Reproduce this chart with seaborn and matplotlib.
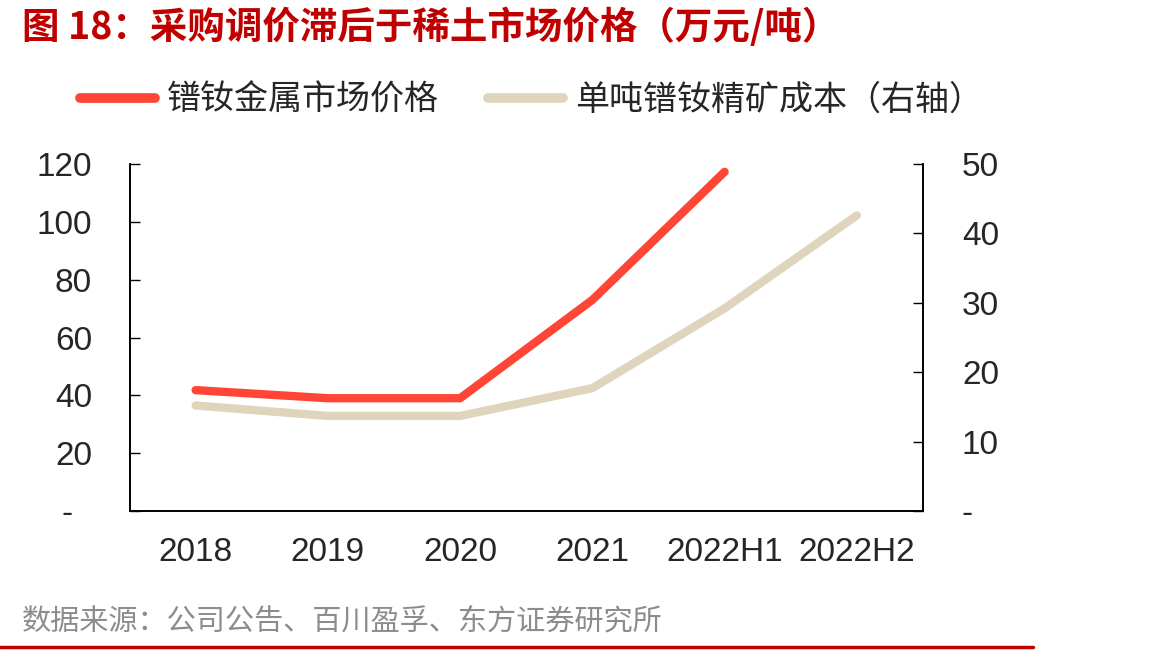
import numpy as np
import pandas as pd
import matplotlib
matplotlib.use("Agg")
import matplotlib.pyplot as plt
from matplotlib.lines import Line2D
import seaborn as sns

# ---- data ----
categories = ["2018", "2019", "2020", "2021", "2022H1", "2022H2"]
metal_price = [41.8, 39.0, 39.0, 73.0, 117.3, np.nan]      # 镨钕金属市场价格 (left axis)
ore_cost = [15.2, 13.7, 13.7, 17.7, 29.2, 42.6]            # 单吨镨钕精矿成本 (right axis)
left_ticks = [0, 20, 40, 60, 80, 100, 120]
right_ticks = [0, 10, 20, 30, 40, 50]
series_names = ["镨钕金属市场价格", "单吨镨钕精矿成本（右轴）"]
title_text = "图 18：采购调价滞后于稀土市场价格（万元/吨）"
source_text = "数据来源：公司公告、百川盈孚、东方证券研究所"

sns.set_theme(style="white")
plt.rcParams["font.family"] = ["Liberation Sans", "Noto Sans CJK SC", "DejaVu Sans"]
cjk = ["Noto Sans CJK SC", "DejaVu Sans"]

RED = "#FF4535"
BEIGE = "#DFD5BD"

df = pd.DataFrame({"pos": np.arange(len(categories)), "cat": categories,
                   "metal": metal_price, "ore": ore_cost})

fig = plt.figure(figsize=(11.65, 6.51), dpi=100)
ax = fig.add_axes([129.5 / 1165, 1 - 511 / 651, (923 - 129.5) / 1165, (511 - 164) / 651])
ax2 = ax.twinx()

sns.lineplot(data=df, x="pos", y="ore", ax=ax2, color=BEIGE, linewidth=6,
             solid_capstyle="round", legend=False)
sns.lineplot(data=df, x="pos", y="metal", ax=ax, color=RED, linewidth=6,
             solid_capstyle="round", legend=False)
ax.set_zorder(ax2.get_zorder() + 1)
ax.patch.set_visible(False)

ax.set_xlim(-0.5, len(categories) - 0.5)
ax.set_ylim(0, 120)
ax2.set_ylim(0, 50)

# x ticks at boundaries, labels at centers
ax.set_xticks(np.arange(len(categories) + 1) - 0.5)
ax.set_xticklabels([])
ax.set_xticks(np.arange(len(categories)), minor=True)
ax.set_xticklabels(categories, minor=True, fontsize=24)
ax.tick_params(axis="x", which="major", direction="in", length=7, width=1, color="black")
ax.tick_params(axis="x", which="minor", length=0, pad=19)

ax.set_yticks(left_ticks)
ax.set_yticklabels(["-  "] + [str(v) for v in left_ticks[1:]], fontsize=24)
ax.tick_params(axis="y", direction="in", length=7, width=1, color="black", pad=27, left=True)

ax2.set_yticks(right_ticks)
ax2.set_yticklabels(["-"] + [str(v) for v in right_ticks[1:]], fontsize=24)
ax2.tick_params(axis="y", direction="in", length=7, width=1, color="black", pad=28, right=True)

ax.set_xlabel("")
ax.set_ylabel("")
ax2.set_ylabel("")
ax.grid(False)
ax2.grid(False)

for a in (ax, ax2):
    a.spines["top"].set_visible(False)
    for s in ["left", "right", "bottom"]:
        a.spines[s].set_color("black")
        a.spines[s].set_linewidth(1.2)

# legend
handles = [Line2D([0], [0], color=RED, linewidth=7, solid_capstyle="round"),
           Line2D([0], [0], color=BEIGE, linewidth=7, solid_capstyle="round")]
fig.legend(handles, series_names, loc="center left", bbox_to_anchor=(80 / 1165, 1 - 100 / 651),
           ncol=2, frameon=False, prop={"family": cjk, "size": 24.5},
           handlelength=2.2, handletextpad=0.35, columnspacing=1.45, borderaxespad=0,
           borderpad=0)

# title
fig.text(22 / 1165, 1 - 27 / 651, title_text, color="#C00000", fontsize=27, fontweight="bold",
         family=cjk, ha="left", va="center")

# source
fig.text(22 / 1165, 1 - 622 / 651, source_text, color="#8C8C8C", fontsize=21,
         family=cjk, ha="left", va="center")

# bottom red rule
fig.add_artist(Line2D([0, 1033 / 1165], [1 - 647 / 651, 1 - 647 / 651], color="#C00000",
                      linewidth=2.5, transform=fig.transFigure))

fig.savefig("out.png", dpi=100)
